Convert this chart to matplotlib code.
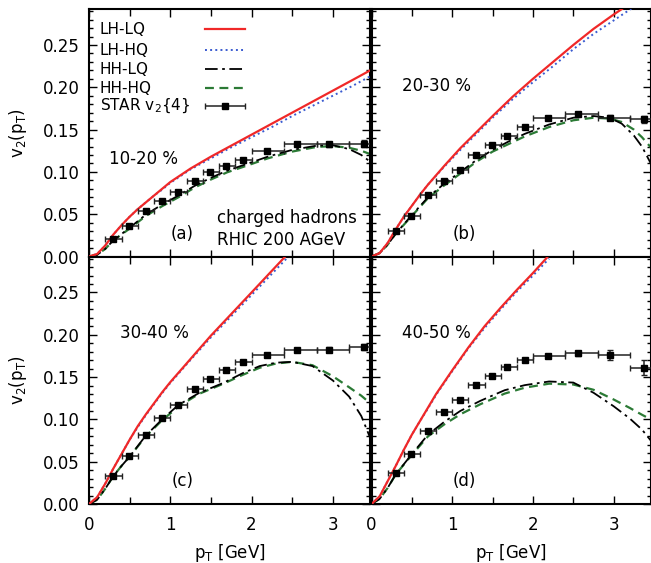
import matplotlib
matplotlib.use('Agg')
import matplotlib.pyplot as plt
from matplotlib.ticker import MultipleLocator, FormatStrFormatter

plt.rcParams['font.family'] = ['DejaVu Sans']
plt.rcParams['mathtext.fontset'] = 'dejavusans'

# STAR v2{4} charged hadrons, pT bin centres and bin edges
pt = [0.3, 0.49, 0.7, 0.9, 1.09, 1.3, 1.49, 1.68, 1.9, 2.19, 2.56, 2.95, 3.38]
bin_lo = [0.2, 0.4, 0.6, 0.8, 1.0, 1.2, 1.4, 1.6, 1.8, 2.0, 2.4, 2.8, 3.2]
bin_hi = [0.4, 0.6, 0.8, 1.0, 1.2, 1.4, 1.6, 1.8, 2.0, 2.4, 2.8, 3.2, 3.6]

star_a = [0.021, 0.0365, 0.0533, 0.0658, 0.0766, 0.0897, 0.0993, 0.1066, 0.1146, 0.125, 0.1335, 0.1325, 0.1335]
star_b = [0.0296, 0.0482, 0.0721, 0.0887, 0.1027, 0.1195, 0.1315, 0.1422, 0.1525, 0.1635, 0.169, 0.164, 0.1623]
star_c = [0.0334, 0.0562, 0.082, 0.1019, 0.1174, 0.136, 0.148, 0.1588, 0.168, 0.176, 0.1815, 0.1825, 0.1855]
star_d = [0.0362, 0.0594, 0.0866, 0.1086, 0.1226, 0.1403, 0.1512, 0.1618, 0.1697, 0.1744, 0.1779, 0.1756, 0.161]
err_a = [0.001, 0.001, 0.001, 0.001, 0.001, 0.001, 0.001, 0.001, 0.001, 0.002, 0.002, 0.003, 0.004]
err_b = [0.001, 0.001, 0.001, 0.001, 0.001, 0.001, 0.001, 0.001, 0.001, 0.002, 0.002, 0.003, 0.004]
err_c = [0.001, 0.001, 0.001, 0.001, 0.001, 0.001, 0.001, 0.001, 0.001, 0.002, 0.002, 0.003, 0.004]
err_d = [0.001, 0.001, 0.001, 0.001, 0.001, 0.001, 0.001, 0.001, 0.002, 0.002, 0.003, 0.006, 0.009]

# hydro curves, panel (a) 10-20 %
xa_lh = [0, 0.1, 0.2, 0.3, 0.4, 0.5, 0.6, 0.7, 0.8, 0.9, 1.0, 1.25, 1.5, 1.75, 2.0, 2.25, 2.5, 2.75, 3.0, 3.25, 3.46]
lhlq_a = [0, 0.003, 0.013, 0.026, 0.037, 0.047, 0.056, 0.064, 0.072, 0.080, 0.088, 0.104, 0.118, 0.131, 0.144, 0.157, 0.170, 0.183, 0.196, 0.209, 0.220]
lhhq_a = [0, 0.003, 0.013, 0.026, 0.037, 0.047, 0.056, 0.064, 0.072, 0.079, 0.087, 0.103, 0.116, 0.129, 0.141, 0.153, 0.166, 0.178, 0.190, 0.202, 0.213]
xa_hh = [0, 0.1, 0.2, 0.3, 0.5, 0.7, 0.9, 1.1, 1.3, 1.5, 1.7, 1.9, 2.2, 2.5, 2.8, 3.0, 3.2, 3.35, 3.46]
hhlq_a = [0, 0.002, 0.009, 0.019, 0.034, 0.0495, 0.0615, 0.072, 0.0835, 0.093, 0.1015, 0.108, 0.118, 0.126, 0.131, 0.1315, 0.127, 0.120, 0.112]
hhhq_a = [0, 0.002, 0.009, 0.019, 0.033, 0.048, 0.0595, 0.070, 0.0815, 0.091, 0.0995, 0.106, 0.116, 0.124, 0.1295, 0.1305, 0.1285, 0.125, 0.121]

# panel (b) 20-30 %
xb_lh = [0, 0.1, 0.2, 0.3, 0.4, 0.5, 0.6, 0.7, 0.9, 1.1, 1.3, 1.5, 1.75, 2.0, 2.25, 2.5, 2.75, 3.0, 3.25]
lhlq_b = [0, 0.004, 0.016, 0.032, 0.047, 0.060, 0.073, 0.085, 0.107, 0.128, 0.147, 0.166, 0.189, 0.210, 0.230, 0.250, 0.269, 0.286, 0.302]
lhhq_b = [0, 0.004, 0.016, 0.032, 0.047, 0.060, 0.073, 0.085, 0.106, 0.126, 0.145, 0.164, 0.186, 0.206, 0.225, 0.245, 0.263, 0.279, 0.295]
xb_hh = [0, 0.1, 0.2, 0.3, 0.5, 0.7, 0.9, 1.1, 1.3, 1.5, 1.7, 1.9, 2.2, 2.5, 2.75, 2.95, 3.1, 3.25, 3.35, 3.46]
hhlq_b = [0, 0.004, 0.014, 0.027, 0.049, 0.070, 0.086, 0.100, 0.114, 0.126, 0.136, 0.145, 0.156, 0.164, 0.166, 0.164, 0.157, 0.143, 0.130, 0.110]
hhhq_b = [0, 0.004, 0.014, 0.027, 0.048, 0.069, 0.084, 0.098, 0.112, 0.124, 0.133, 0.142, 0.153, 0.161, 0.164, 0.163, 0.159, 0.150, 0.141, 0.129]

# panel (c) 30-40 %
xc_lh = [0, 0.1, 0.2, 0.3, 0.4, 0.5, 0.6, 0.7, 0.8, 0.9, 1.0, 1.2, 1.5, 2.0, 2.4, 2.5]
lhlq_c = [0, 0.008, 0.024, 0.042, 0.059, 0.076, 0.092, 0.106, 0.119, 0.132, 0.144, 0.166, 0.199, 0.250, 0.291, 0.301]
lhhq_c = [0, 0.008, 0.024, 0.042, 0.059, 0.076, 0.091, 0.105, 0.118, 0.131, 0.143, 0.165, 0.197, 0.247, 0.287, 0.297]
xc_hh = [0, 0.1, 0.2, 0.3, 0.4, 0.5, 0.7, 0.9, 1.1, 1.35, 1.65, 1.9, 2.1, 2.3, 2.5, 2.75, 3.0, 3.2, 3.35, 3.46]
hhlq_c = [0, 0.005, 0.018, 0.033, 0.045, 0.056, 0.081, 0.100, 0.117, 0.131, 0.143, 0.155, 0.163, 0.167, 0.168, 0.163, 0.146, 0.127, 0.104, 0.078]
hhhq_c = [0, 0.005, 0.018, 0.033, 0.045, 0.056, 0.080, 0.099, 0.115, 0.130, 0.142, 0.153, 0.161, 0.166, 0.168, 0.164, 0.151, 0.138, 0.128, 0.119]

# panel (d) 40-50 %
xd_lh = [0, 0.1, 0.2, 0.3, 0.4, 0.5, 0.6, 0.7, 0.8, 0.9, 1.0, 1.2, 1.4, 1.6, 1.8, 2.0, 2.2]
lhlq_d = [0, 0.009, 0.027, 0.045, 0.064, 0.082, 0.098, 0.114, 0.130, 0.144, 0.158, 0.185, 0.210, 0.232, 0.253, 0.273, 0.294]
lhhq_d = [0, 0.009, 0.027, 0.045, 0.064, 0.082, 0.098, 0.113, 0.129, 0.143, 0.157, 0.184, 0.208, 0.230, 0.251, 0.270, 0.290]
xd_hh = [0, 0.1, 0.2, 0.3, 0.5, 0.7, 0.9, 1.1, 1.35, 1.65, 1.9, 2.2, 2.5, 2.75, 3.0, 3.2, 3.35, 3.46]
hhlq_d = [0, 0.006, 0.019, 0.035, 0.059, 0.082, 0.097, 0.110, 0.122, 0.1345, 0.1405, 0.1448, 0.1435, 0.1315, 0.1155, 0.101, 0.088, 0.075]
hhhq_d = [0, 0.006, 0.019, 0.035, 0.058, 0.080, 0.094, 0.106, 0.118, 0.1305, 0.1375, 0.1422, 0.1412, 0.135, 0.1235, 0.1135, 0.1055, 0.100]

cent = ['10-20 %', '20-30 %', '30-40 %', '40-50 %']
tags = ['(a)', '(b)', '(c)', '(d)']
cent_pos = [(0.67, 0.115), (0.8, 0.202), (0.8, 0.202), (0.8, 0.202)]

series_names = ['LH-LQ', 'LH-HQ', 'HH-LQ', 'HH-HQ']
series_style = [dict(color='#f02828', lw=1.6, ls='-'),
                dict(color='#3a5bd0', lw=1.4, ls=':'),
                dict(color='black', lw=1.3, dashes=(7, 2.5, 1.5, 2.5)),
                dict(color='#2b7a35', lw=1.6, dashes=(4, 2.5))]

panels = [
    (xa_lh, lhlq_a, lhhq_a, xa_hh, hhlq_a, hhhq_a, star_a, err_a),
    (xb_lh, lhlq_b, lhhq_b, xb_hh, hhlq_b, hhhq_b, star_b, err_b),
    (xc_lh, lhlq_c, lhhq_c, xc_hh, hhlq_c, hhhq_c, star_c, err_c),
    (xd_lh, lhlq_d, lhhq_d, xd_hh, hhlq_d, hhhq_d, star_d, err_d),
]

fig = plt.figure(figsize=(6.51, 5.63), dpi=100)
W, H = 0.432, 0.4396
rects = [(0.1367, 0.5444, W, H), (0.5707, 0.5444, 0.4290, H),
         (0.1367, 0.1048, W, H), (0.5707, 0.1048, 0.4290, H)]

xerr_lo = [p - l for p, l in zip(pt, bin_lo)]
xerr_hi = [h - p for p, h in zip(pt, bin_hi)]
ebar_kw = dict(fmt='s', color='black', ms=4.5, ecolor='#222222', elinewidth=1.1,
               capsize=2, capthick=1)

for i, (r, d) in enumerate(zip(rects, panels)):
    ax = fig.add_axes(r)
    xl, lq, hq, xh, hlq, hhq, star, err = d
    ax.plot(xh, hhq, zorder=2, **series_style[3])
    ax.plot(xh, hlq, zorder=2, **series_style[2])
    ax.plot(xl, hq, zorder=3, **series_style[1])
    ax.plot(xl, lq, zorder=3, **series_style[0])
    ax.errorbar(pt, star, xerr=[xerr_lo, xerr_hi], yerr=err, zorder=4, **ebar_kw)

    ax.set_xlim(0, 3.46)
    ax.set_ylim(0, 0.2925)
    ax.xaxis.set_major_locator(MultipleLocator(1))
    ax.xaxis.set_minor_locator(MultipleLocator(0.5))
    ax.yaxis.set_major_locator(MultipleLocator(0.05))
    ax.yaxis.set_minor_locator(MultipleLocator(0.01))
    ax.yaxis.set_major_formatter(FormatStrFormatter('%.2f'))
    ax.tick_params(which='both', direction='in', top=True, right=True, labelsize=12, width=1)
    ax.tick_params(axis='y', which='major', length=6, pad=7)
    ax.tick_params(axis='y', which='minor', length=3)
    ax.tick_params(axis='x', which='major', length=6, pad=9)
    ax.tick_params(axis='x', which='minor', length=5)
    for s in ax.spines.values():
        s.set_linewidth(1.5)

    if i in (1, 3):
        ax.tick_params(labelleft=False)
    else:
        ax.set_ylabel(r'v$_2$(p$_\mathrm{T}$)', fontsize=12)
        ax.yaxis.set_label_coords(-0.215, 0.5)
    if i in (0, 1):
        ax.tick_params(labelbottom=False)
    else:
        ax.set_xlabel(r'p$_\mathrm{T}$ [GeV]', fontsize=12)
        ax.xaxis.set_label_coords(0.5, -0.155)

    ax.text(cent_pos[i][0], cent_pos[i][1], cent[i], fontsize=12, ha='center', va='center')
    ax.text(1.15, 0.027, tags[i], fontsize=12, ha='center', va='center')

    if i == 0:
        ax.text(1.58, 0.045, 'charged hadrons', fontsize=12, ha='left', va='center')
        ax.text(1.58, 0.019, 'RHIC 200 AGeV', fontsize=12, ha='left', va='center')
        # key, gnuplot style: label on the left, sample on the right
        rows = [0.919, 0.834, 0.757, 0.680, 0.607]
        tr = ax.transAxes
        for k in range(4):
            ax.text(0.039, rows[k], series_names[k], transform=tr, fontsize=11,
                    ha='left', va='center')
            ax.plot([0.413, 0.555], [rows[k], rows[k]], transform=tr, **series_style[k])
        ax.text(0.039, rows[4], r'STAR v$_2${4}', transform=tr, fontsize=11,
                ha='left', va='center')
        ax.errorbar([0.484], [rows[4]], xerr=[0.071], transform=tr, **ebar_kw)

fig.savefig('out.png', dpi=100)
